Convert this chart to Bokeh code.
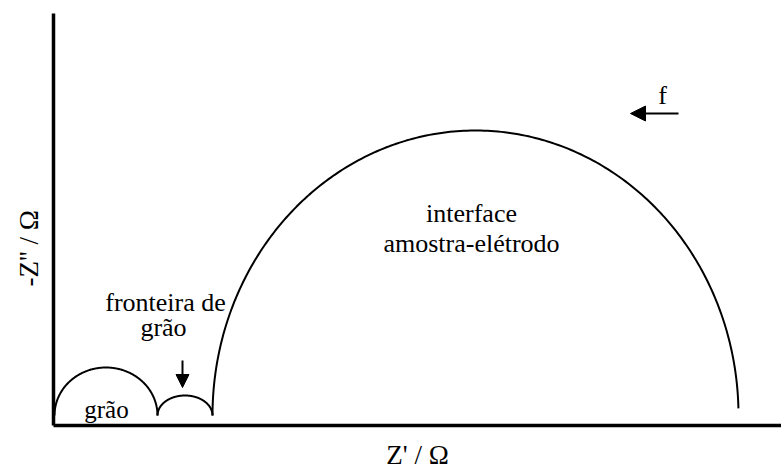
import numpy as np
from bokeh.plotting import figure
from bokeh.models import Range1d, Label, Arrow, NormalHead, FixedTicker, Title
from bokeh.embed import file_html
from bokeh.resources import INLINE

# Semi-ellipse parameters for the three relaxation arcs, Z' and -Z'' in arbitrary units
arc_names = ["grão", "fronteira de grão", "interface amostra-elétrodo"]
arc_left = [1.0, 104.0, 159.0]        # Z' where each arc starts
arc_right = [104.0, 159.0, 685.0]     # Z' where each arc ends
arc_base = [10.0, 10.0, 10.0]         # -Z'' of the arc baseline
arc_height = [48.0, 20.0, 285.0]      # arc height above its baseline
arc_end_angle = [0.0, 0.0, 0.025]     # right-end cut-off angle (rad)

FONT = "Liberation Serif"

p = figure(width=781, height=473, output_backend="svg", toolbar_location=None,
           x_range=Range1d(0, 728), y_range=Range1d(0, 412),
           min_border_left=53, min_border_right=0, min_border_top=13, min_border_bottom=48)
p.outline_line_color = None
p.grid.visible = False
p.background_fill_color = "white"
p.border_fill_color = "white"

for ax in (p.xaxis[0], p.yaxis[0]):
    ax.axis_line_width = 3.5
    ax.axis_line_color = "black"
    ax.ticker = FixedTicker(ticks=[])
    ax.major_tick_line_color = None
    ax.minor_tick_line_color = None

xax = p.xaxis[0]
xax.axis_label = "Z' / Ω"
xax.axis_label_text_font = FONT
xax.axis_label_text_font_style = "normal"
xax.axis_label_text_font_size = "27px"
xax.axis_label_text_color = "black"
xax.axis_label_standoff = 14

# vertical axis title, placed a little below the middle of the axis
p.add_layout(Title(text="-Z'' / Ω", align="left", offset=139, text_font=FONT,
                   text_font_size="27px", text_font_style="normal", text_color="black",
                   standoff=20), "left")

for x0, x1, yb, h, a_end in zip(arc_left, arc_right, arc_base, arc_height, arc_end_angle):
    cx = (x0 + x1) / 2
    rx = (x1 - x0) / 2
    t = np.linspace(np.pi, a_end, 240)
    p.line(cx + rx * np.cos(t), yb + h * np.sin(t), line_color="black", line_width=2)

def txt(x, y, s, size="26px"):
    p.add_layout(Label(x=x, y=y, text=s, text_font=FONT, text_font_size=size,
                       text_align="center", text_baseline="alphabetic", text_color="black"))

txt(53, 16, "grão", "25px")
txt(112, 123, "fronteira de")
txt(110, 98, "grão")
txt(418, 212, "interface")
txt(418, 182, "amostra-elétrodo")
txt(609, 330, "f")

p.add_layout(Arrow(end=NormalHead(size=13, fill_color="black", line_color="black"),
                   x_start=129, y_start=65, x_end=129, y_end=38, line_width=2))
p.add_layout(Arrow(end=NormalHead(size=15, fill_color="black", line_color="black"),
                   x_start=625, y_start=312, x_end=577, y_end=312, line_width=2))

open("out.html", "w").write(file_html(p, INLINE))
